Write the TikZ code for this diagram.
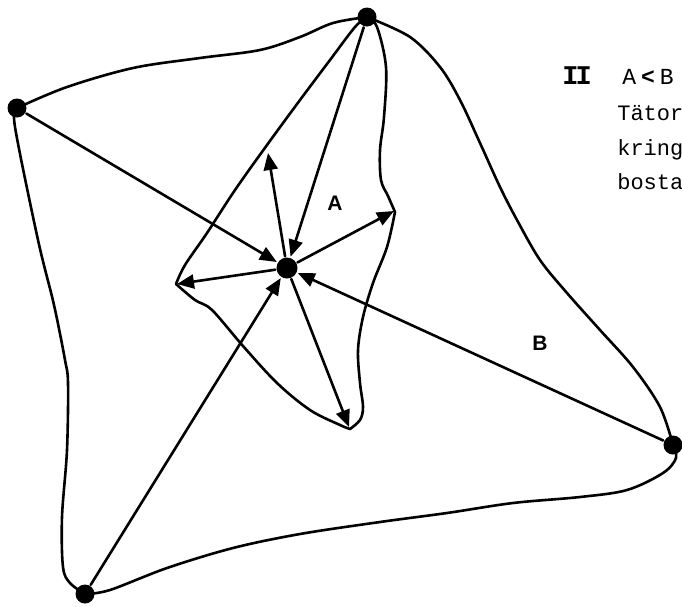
\documentclass[tikz,border=0pt]{standalone}
\usepackage{fontspec}
\setmainfont{Liberation Serif}
\setmonofont{Liberation Mono}
\setsansfont{Liberation Sans}
\usetikzlibrary{arrows.meta}
\begin{document}
\begin{tikzpicture}[x=1pt,y=-1pt,
  line width=2.6pt, line join=round, line cap=round,
  dot/.style={circle,fill,inner sep=0pt,minimum size=19pt},
  hub/.style={circle,fill,inner sep=0pt,minimum size=21pt},
  arr/.style={-{Triangle[length=17pt,width=14pt]}},
  region/.style={font=\sffamily\bfseries\fontsize{21}{21}\selectfont},
  tw/.style={anchor=base west,inner sep=0pt,font=\ttfamily\fontsize{22}{22}\selectfont}]
\useasboundingbox (0,0) rectangle (682,606);
% vertices
\node[dot] (T) at (367,17) {};
\node[dot] (L) at (17,108) {};
\node[dot] (R) at (673,445) {};
\node[dot] (Bo) at (85,594) {};
\node[hub] (C) at (287,268) {};
% points on inner boundary
\coordinate (aU) at (268,153);
\coordinate (aR) at (394,211);
\coordinate (aL) at (177,284);
\coordinate (aD) at (349,427);
% outer boundary B
\draw plot[smooth,tension=0.55] coordinates {(17,108) (67,87) (133,68) (200,58) (260,50) (300,37) (333,23) (367,17)};
\draw plot[smooth,tension=0.55] coordinates {(367,17) (410,37) (440,67) (460,100) (480,143) (500,187) (517,220) (540,260) (567,293) (600,330) (633,367) (660,407) (673,445)};
\draw plot[smooth,tension=0.55] coordinates {(673,445) (676,458) (663,473) (627,490) (580,497) (513,503) (447,513) (380,522) (300,534) (233,548) (167,568) (110,590) (85,594)};
\draw plot[smooth,tension=0.55] coordinates {(85,594) (70,583) (63,567) (62,517) (67,450) (68,383) (65,360) (54,305) (38,240) (15,127) (17,108)};
% inner boundary A
\draw plot[smooth,tension=0.55] coordinates {(367,17) (355,27) (330,60) (300,100) (267,145) (235,190) (207,233) (185,265) (176,284)};
\draw plot[smooth,tension=0.55] coordinates {(176,284) (195,300) (212,310) (243,346) (277,383) (310,410) (340,425) (350,429)};
\draw plot[smooth,tension=0.55] coordinates {(350,429) (360,420) (363,407) (360,383) (358,350) (363,317) (373,283) (387,247) (395,212)};
\draw plot[smooth,tension=0.55] coordinates {(395,212) (388,196) (381,180) (380,150) (384,117) (386,67) (377,27) (367,17)};
% inward connectors
\draw[arr] (L) -- (C);
\draw[arr] (T) -- (C);
\draw[arr] (R) -- (C);
\draw[arr] (Bo) -- (C);
% outward connectors
\draw[arr] (C) -- (aU);
\draw[arr] (C) -- (aR);
\draw[arr] (C) -- (aL);
\draw[arr] (C) -- (aD);
% labels
\node[region] (lA) at (335,203) {A};
\node[region] (lB) at (540,343) {B};
\node[anchor=base west,inner sep=0pt,font=\ttfamily\bfseries\fontsize{27}{27}\selectfont] (num) at (561,84) {I\kern-3ptI};
\node[tw,font=\ttfamily\fontsize{23}{23}\selectfont] (rel) at (621,84) {A\hspace{5pt}{\bfseries<}\hspace{5pt}B};
\node[tw] (t1) at (616,120) {Tätor};
\node[tw] (t2) at (616,155) {kring};
\node[tw] (t3) at (616,189) {bosta};
\end{tikzpicture}
\end{document}
